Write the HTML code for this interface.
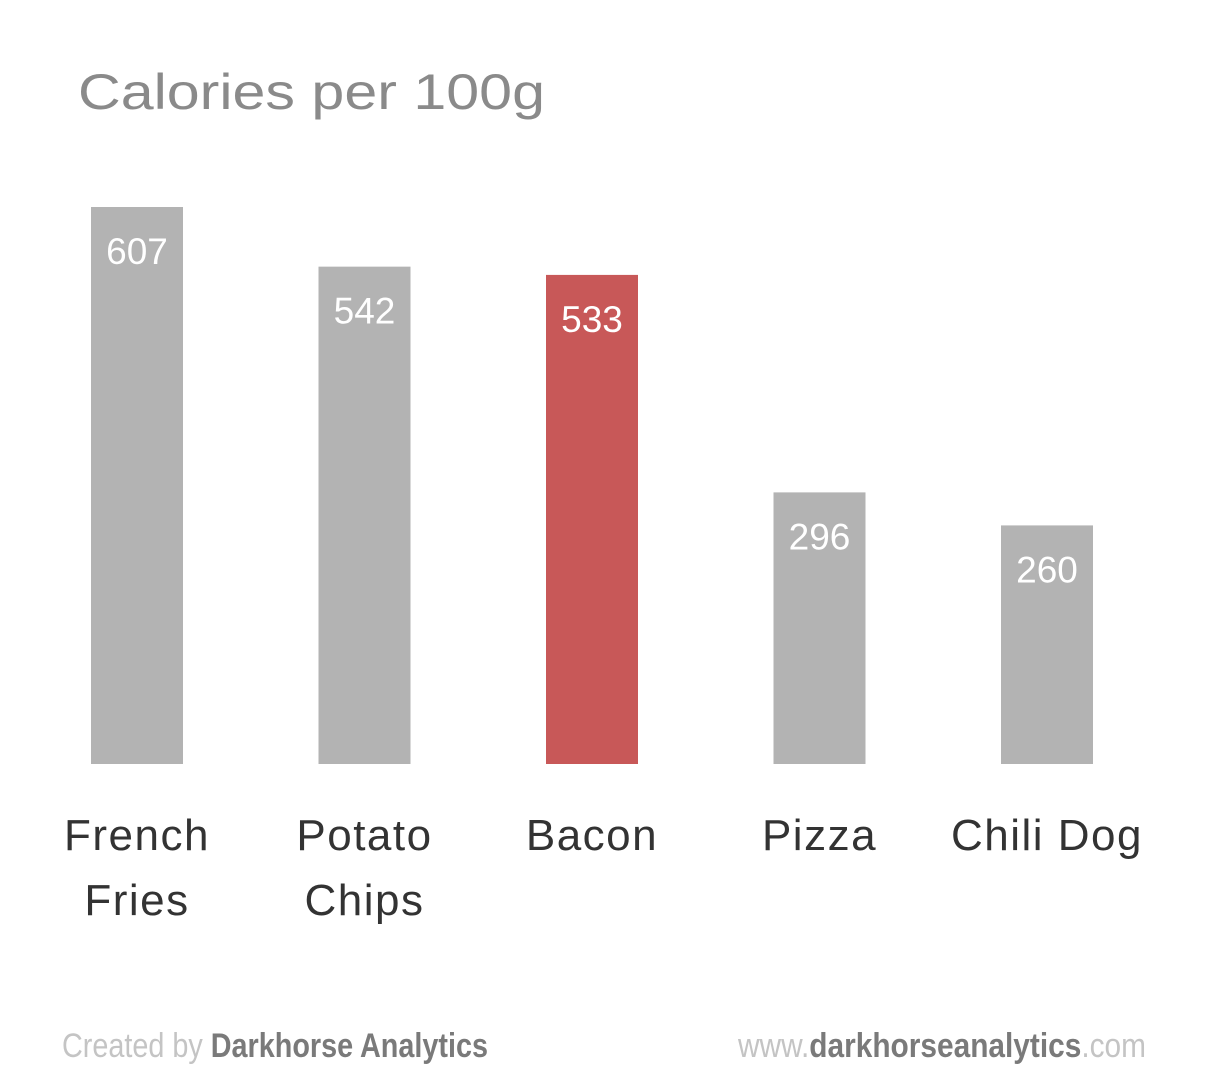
<!DOCTYPE html>
<html><head><meta charset="utf-8"><style>
html,body{margin:0;padding:0;background:#fff;}
svg{display:block;font-family:"Liberation Sans","DejaVu Sans",sans-serif;}
</style></head><body>
<svg id="chart" width="1218" height="1086" viewBox="0 0 1218 1086" xmlns="http://www.w3.org/2000/svg">
<text x="78" y="109" font-size="50" fill="#8a8a8a" textLength="467" lengthAdjust="spacingAndGlyphs">Calories per 100g</text>
<g id="bars"></g>
<g>
<text x="62" y="1057" font-size="34" textLength="426" lengthAdjust="spacingAndGlyphs"><tspan fill="#c4c4c4">Created by </tspan><tspan fill="#7a7a7a" font-weight="bold">Darkhorse Analytics</tspan></text>
<text x="738" y="1057" font-size="34" textLength="408" lengthAdjust="spacingAndGlyphs"><tspan fill="#c4c4c4">www.</tspan><tspan fill="#7a7a7a" font-weight="bold">darkhorseanalytics</tspan><tspan fill="#c4c4c4">.com</tspan></text>
</g>
</svg>
<script>
const categories = [["French","Fries"],["Potato","Chips"],["Bacon"],["Pizza"],["Chili Dog"]];
const values = [607, 542, 533, 296, 260];
const highlight = [false, false, true, false, false];

const baseY = 764, scale = 557/607, x0 = 137, step = 227.5, barW = 92;
const yPos = v => baseY - v*scale;
const xPos = i => x0 + i*step;
const ns = "http://www.w3.org/2000/svg";
const g = document.getElementById('bars');
values.forEach((v,i)=>{
  const cx = xPos(i);
  const r = document.createElementNS(ns,'rect');
  
  
  r.setAttribute('x', cx - barW/2);
  r.setAttribute('y', yPos(v));
  r.setAttribute('width', barW);
  r.setAttribute('height', baseY - yPos(v));
  r.setAttribute('fill', highlight[i] ? '#c85858' : '#b3b3b3');
  g.appendChild(r);
  const t = document.createElementNS(ns,'text');
  
  
  t.setAttribute('x', cx);
  t.setAttribute('y', yPos(v) + 57);
  t.setAttribute('text-anchor', 'middle');
  t.setAttribute('font-size', '37');
  t.setAttribute('fill', '#fff');
  t.textContent = v;
  g.appendChild(t);
  categories[i].forEach((line,j)=>{
    const c = document.createElementNS(ns,'text');
    
    
    c.setAttribute('x', cx);
    c.setAttribute('y', 850 + j*65);
    c.setAttribute('text-anchor', 'middle');
    c.setAttribute('font-size', '44');
    c.setAttribute('letter-spacing', '1.5');
    c.setAttribute('fill', '#333');
    c.textContent = line;
    g.appendChild(c);
  });
});
</script>
</body></html>
